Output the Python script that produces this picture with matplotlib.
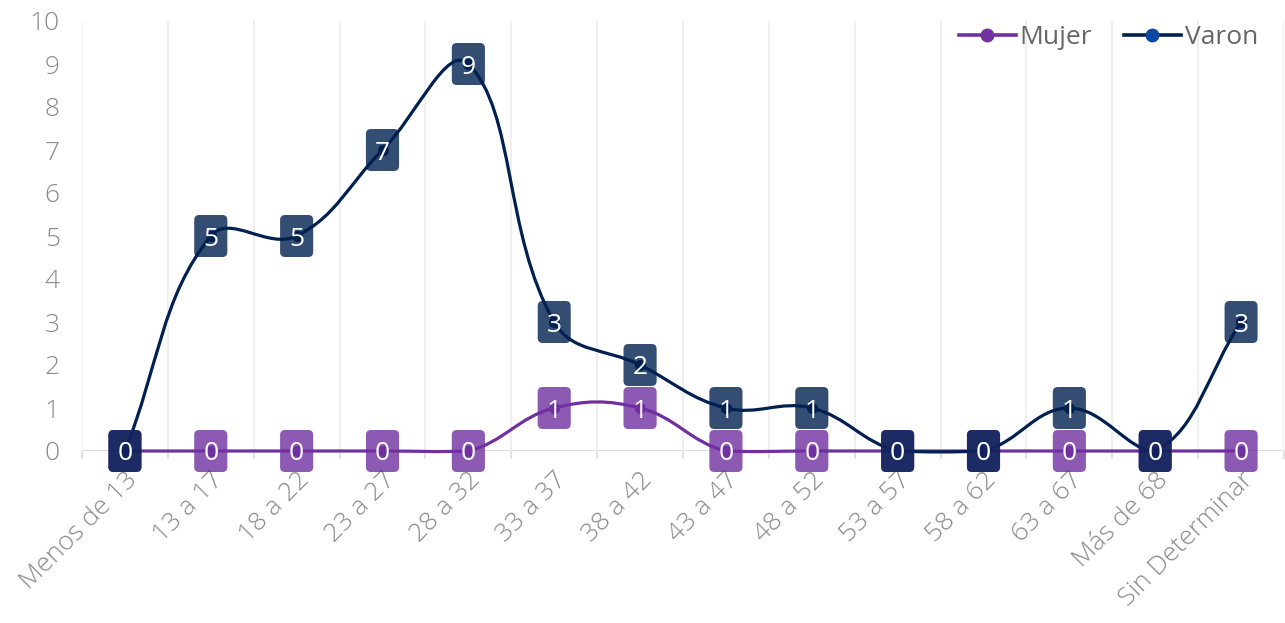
"""Line chart: cases by age group, Mujer vs Varon, smoothed lines with boxed labels."""

import matplotlib
import matplotlib.pyplot as plt
import numpy as np
from matplotlib.lines import Line2D
from matplotlib.patches import FancyBboxPatch, PathPatch
from matplotlib.path import Path
from matplotlib.transforms import ScaledTranslation

matplotlib.use("Agg")

plt.rcParams["font.family"] = ["Open Sans", "DejaVu Sans"]

categories = [
    "Menos de 13", "13 a 17", "18 a 22", "23 a 27", "28 a 32", "33 a 37", "38 a 42",
    "43 a 47", "48 a 52", "53 a 57", "58 a 62", "63 a 67", "Más de 68", "Sin Determinar",
]
mujer = [0, 0, 0, 0, 0, 1, 1, 0, 0, 0, 0, 0, 0, 0]
varon = [0, 5, 5, 7, 9, 3, 2, 1, 1, 0, 0, 1, 0, 3]
y_ticks = list(range(0, 11))

MUJER_COLOR = "#7030a0"
VARON_COLOR = "#002050"
VARON_LEGEND_DOT = "#0b47a1"
TICK_COLOR = "#8a8a8a"
FS = 19


def spline_path(ax, xs, ys, tension=0.4):
    """Chart.js style cubic spline, computed in display space, control points capped."""
    pts = ax.transData.transform(np.column_stack([xs, ys]))
    lo = ax.transData.transform((0, ax.get_ylim()[0] - 0.03))[1]
    hi = ax.transData.transform((0, ax.get_ylim()[1]))[1]
    n = len(pts)
    cp_prev = np.zeros_like(pts)
    cp_next = np.zeros_like(pts)
    for i in range(n):
        prev = pts[i - 1] if i > 0 else pts[i]
        cur = pts[i]
        nxt = pts[i + 1] if i < n - 1 else pts[i]
        d01 = np.hypot(*(cur - prev))
        d12 = np.hypot(*(nxt - cur))
        tot = d01 + d12
        s01 = d01 / tot if tot else 0
        s12 = d12 / tot if tot else 0
        cp_prev[i] = cur - tension * s01 * (nxt - prev)
        cp_next[i] = cur + tension * s12 * (nxt - prev)
    cp_prev[:, 1] = np.clip(cp_prev[:, 1], lo, hi)
    cp_next[:, 1] = np.clip(cp_next[:, 1], lo, hi)
    verts = [pts[0]]
    codes = [Path.MOVETO]
    for i in range(n - 1):
        verts += [cp_next[i], cp_prev[i + 1], pts[i + 1]]
        codes += [Path.CURVE4] * 3
    inv = ax.transData.inverted()
    return Path(inv.transform(np.array(verts)), codes)


def draw_labels(fig, ax, xs, ys, color, zorder):
    renderer = fig.canvas.get_renderer()
    for x, y in zip(xs, ys):
        txt = ax.text(x, y, str(y), ha="center", va="center_baseline", color="white",
                      fontsize=FS, zorder=zorder + 0.5)
        bb = txt.get_window_extent(renderer)
        w = (bb.width + 18) / fig.dpi
        h = 42 / fig.dpi
        trans = fig.dpi_scale_trans + ScaledTranslation(x, y, ax.transData)
        box = FancyBboxPatch((-w / 2, -h / 2), w, h,
                             boxstyle="round,pad=0,rounding_size=0.05",
                             facecolor=color, edgecolor="none", alpha=0.8,
                             transform=trans, zorder=zorder, clip_on=False)
        ax.add_patch(box)


def main():
    fig = plt.figure(figsize=(12.85, 6.23), dpi=100)
    ax = fig.add_axes([82 / 1285, 172 / 623, 1202 / 1285, 430 / 623])
    x = np.arange(len(categories))
    ax.set_xlim(-0.5, len(categories) - 0.5)
    ax.set_ylim(0, 10)

    for spine in ax.spines.values():
        spine.set_visible(False)
    ax.axhline(0, color="#dcdcdc", linewidth=1.5, zorder=1)

    ax.set_xticks(x)
    ax.set_xticklabels(categories, rotation=45, ha="right", rotation_mode="anchor",
                       fontsize=FS, color=TICK_COLOR, fontweight="light")
    ax.set_xticks(np.arange(-0.5, len(categories)), minor=True)
    ax.tick_params(axis="x", which="major", length=0, pad=12)
    ax.tick_params(axis="x", which="minor", length=6, color="#dcdcdc", width=1.2)
    ax.grid(axis="x", which="minor", color="#ececec", linewidth=1.2, zorder=0)
    ax.set_yticks(y_ticks)
    ax.set_yticklabels([str(v) for v in y_ticks], fontsize=FS, color=TICK_COLOR,
                       fontweight="light")
    ax.tick_params(axis="y", length=0, pad=16)

    for ys, color, z in [(mujer, MUJER_COLOR, 2), (varon, VARON_COLOR, 3)]:
        path = spline_path(ax, x, ys)
        ax.add_patch(PathPatch(path, facecolor="none", edgecolor=color, linewidth=2.3,
                               zorder=z, clip_on=False, capstyle="round"))
        ax.plot(x, ys, linestyle="none", marker="o", markersize=7, color=color,
                zorder=z + 0.1, clip_on=False)

    draw_labels(fig, ax, x, mujer, MUJER_COLOR, 5)
    draw_labels(fig, ax, x, varon, VARON_COLOR, 7)

    handles = [
        Line2D([], [], color=MUJER_COLOR, linewidth=2.6, marker="o", markersize=9,
               markerfacecolor=MUJER_COLOR, markeredgecolor=MUJER_COLOR),
        Line2D([], [], color=VARON_COLOR, linewidth=2.6, marker="o", markersize=9,
               markerfacecolor=VARON_LEGEND_DOT, markeredgecolor=VARON_LEGEND_DOT),
    ]
    leg = ax.legend(handles, ["Mujer", "Varon"], loc="upper right", ncol=2, frameon=False,
                    fontsize=FS, handlelength=2.15, handletextpad=0.15, columnspacing=1.2,
                    bbox_to_anchor=(1 - 26 / 1202, 1 - 4 / 430), borderaxespad=0,
                    borderpad=0)
    for t in leg.get_texts():
        t.set_color("#666666")

    fig.savefig("out.png", dpi=100)
    plt.close(fig)


if __name__ == "__main__":
    main()
